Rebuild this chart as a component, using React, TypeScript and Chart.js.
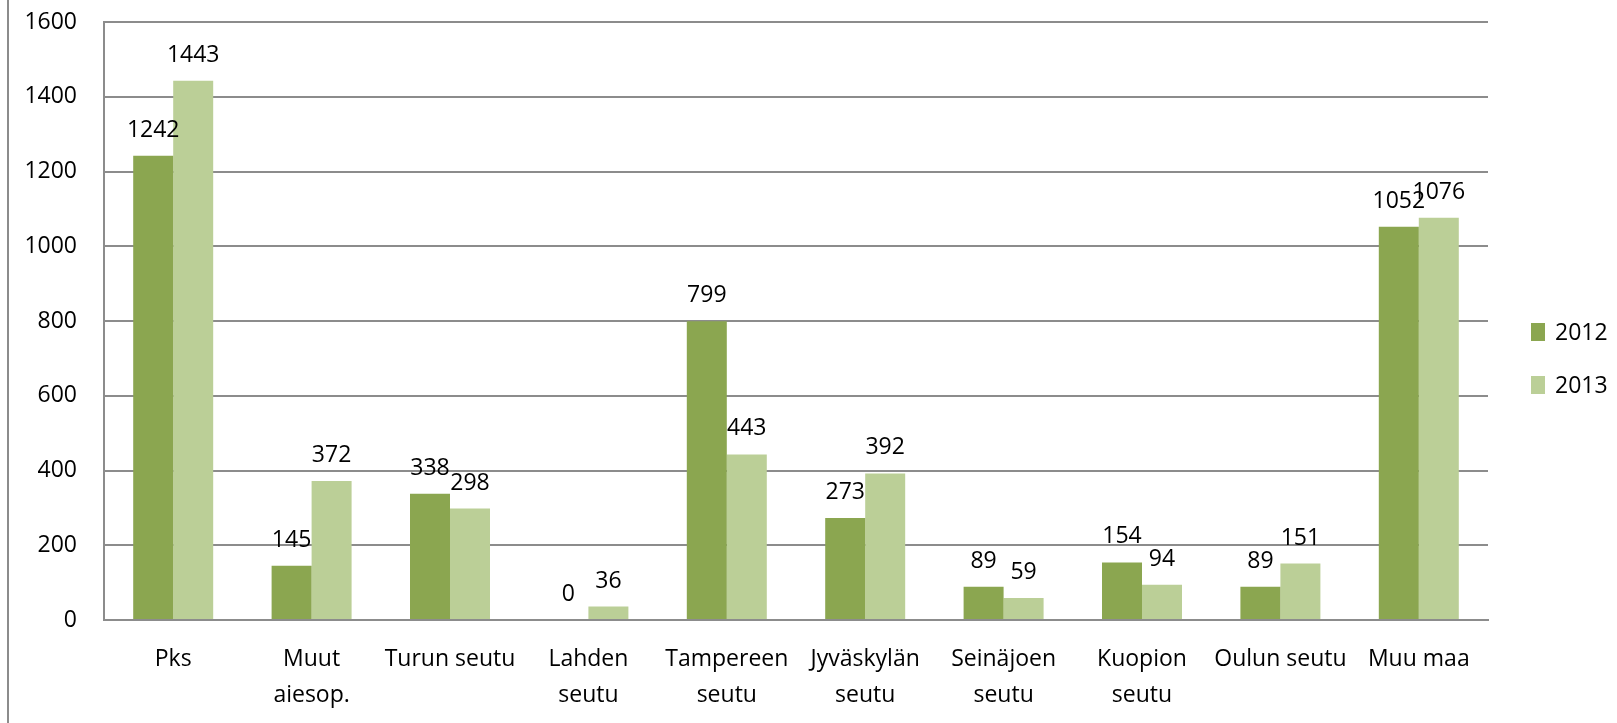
import React, { useEffect, useRef } from "react";
import { Chart, registerables } from "chart.js";

Chart.register(...registerables);

const categories: (string | string[])[] = [
  "Pks",
  ["Muut", "aiesop."],
  "Turun seutu",
  ["Lahden", "seutu"],
  ["Tampereen", "seutu"],
  ["Jyväskylän", "seutu"],
  ["Seinäjoen", "seutu"],
  ["Kuopion", "seutu"],
  "Oulun seutu",
  "Muu maa",
];

const values2012 = [1242, 145, 338, 0, 799, 273, 89, 154, 89, 1052];
const values2013 = [1443, 372, 298, 36, 443, 392, 59, 94, 151, 1076];
const seriesLabels = ["2012", "2013"];
const seriesColors = ["#8BA650", "#BBCF97"];

const FONT = "'Open Sans', 'Liberation Sans', sans-serif";
const FONT_SIZE = 23;

const dataLabelPlugin = {
  id: "dataLabels",
  afterDatasetsDraw(chart: any) {
    const ctx = chart.ctx;
    ctx.save();
    ctx.font = `${FONT_SIZE}px ${FONT}`;
    ctx.fillStyle = "#000";
    ctx.textAlign = "center";
    ctx.textBaseline = "alphabetic";
    chart.data.datasets.forEach((ds: any, di: number) => {
      const meta = chart.getDatasetMeta(di);
      meta.data.forEach((bar: any, i: number) => {
        ctx.fillText(String(ds.data[i]), bar.x, bar.y - 19);
      });
    });
    ctx.restore();
  },
};

const legendPlugin = {
  id: "sideLegend",
  afterDraw(chart: any) {
    const ctx = chart.ctx;
    ctx.save();
    ctx.font = `${FONT_SIZE}px ${FONT}`;
    ctx.textAlign = "left";
    ctx.textBaseline = "middle";
    const n = chart.data.datasets.length;
    const spacing = 53;
    const startY = chart.height / 2 - 3 - ((n - 1) * spacing) / 2;
    const boxX = chart.chartArea.right + 43;
    chart.data.datasets.forEach((ds: any, i: number) => {
      const cy = startY + i * spacing;
      ctx.fillStyle = ds.backgroundColor;
      ctx.fillRect(boxX, cy - 9, 14, 18);
      ctx.fillStyle = "#000";
      ctx.fillText(ds.label, boxX + 24, cy + 1);
    });
    ctx.restore();
  },
};

export default function App() {
  const canvasRef = useRef<HTMLCanvasElement | null>(null);

  useEffect(() => {
    if (!canvasRef.current) return;
    const chart = new Chart(canvasRef.current, {
      type: "bar",
      data: {
        labels: categories,
        datasets: [
          {
            label: seriesLabels[0],
            data: values2012,
            backgroundColor: seriesColors[0],
            categoryPercentage: 0.578,
            barPercentage: 1,
          },
          {
            label: seriesLabels[1],
            data: values2013,
            backgroundColor: seriesColors[1],
            categoryPercentage: 0.578,
            barPercentage: 1,
          },
        ],
      },
      options: {
        responsive: false,
        animation: false,
        layout: { padding: { left: 0, top: 22, right: 129, bottom: 0 } },
        plugins: {
          legend: { display: false },
          tooltip: { enabled: false },
        },
        scales: {
          x: {
            grid: { display: false, drawTicks: false },
            border: { display: true, color: "#8c8c8c", width: 2 },
            ticks: {
              color: "#000",
              font: { family: FONT, size: FONT_SIZE, lineHeight: 36 / FONT_SIZE },
              padding: 21,
              maxRotation: 0,
              minRotation: 0,
              autoSkip: false,
            },
            afterFit(scale: any) {
              scale.height = 103;
            },
          },
          y: {
            min: 0,
            max: 1600,
            grid: { color: "#8c8c8c", lineWidth: 2, drawTicks: false },
            border: { display: true, color: "#8c8c8c", width: 2 },
            ticks: {
              stepSize: 200,
              color: "#000",
              font: { family: FONT, size: FONT_SIZE },
              padding: 27,
              callback: (v: any) => String(v),
            },
            afterFit(scale: any) {
              scale.width = 104;
              scale.paddingTop = 0;
              scale.paddingBottom = 0;
            },
          },
        },
      },
      plugins: [dataLabelPlugin, legendPlugin],
    });
    return () => chart.destroy();
  }, []);

  return (
    <div
      style={{
        position: "fixed",
        left: 0,
        top: 0,
        width: 1617,
        height: 723,
        background: "#fff",
        overflow: "hidden",
      }}
    >
      <canvas
        ref={canvasRef}
        width={1617}
        height={723}
        style={{ position: "absolute", left: 0, top: 0, width: 1617, height: 723 }}
      />
      <div
        style={{
          position: "absolute",
          left: 7,
          top: 0,
          width: 2,
          height: 723,
          background: "#8c8c8c",
        }}
      />
    </div>
  );
}
